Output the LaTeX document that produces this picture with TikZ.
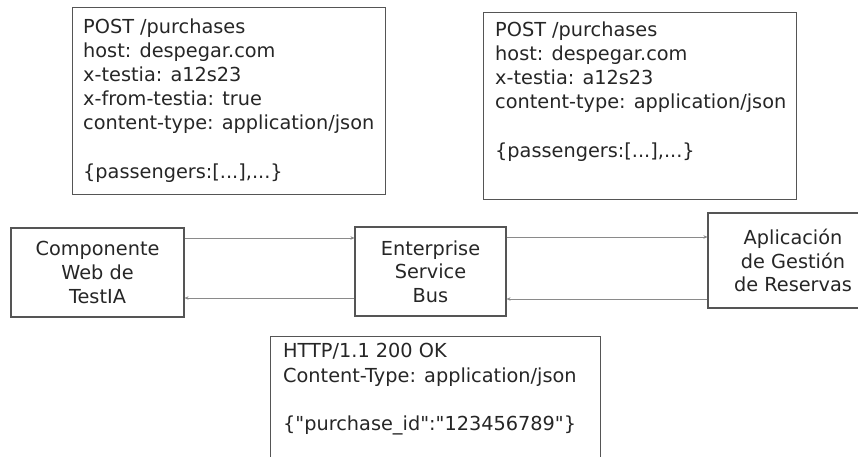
\documentclass[tikz,border=0pt]{standalone}
\usepackage{fontspec}
\setmainfont{DejaVu Sans}
\newfontfamily\dvplain{DejaVu Sans}
\usetikzlibrary{arrows.meta}
\definecolor{txt}{HTML}{262626}
\definecolor{boxgray}{HTML}{555555}
\definecolor{linegray}{HTML}{8A8A8A}
\begin{document}
\begin{tikzpicture}[x=1pt,y=-1pt,
  box/.style={draw=boxgray, line width=1.1pt, inner sep=0pt, fill=white},
  comp/.style={box, font=\dvplain\fontsize{19.3}{23.6}\selectfont, align=center, text=txt},
  msg/.style={font=\dvplain\fontsize{19.3}{24.2}\selectfont, align=left, anchor=north west, inner sep=0pt, text=txt},
  link/.style={draw=linegray, line width=0.9pt, -{Stealth[length=4pt,width=3.5pt]}}]
\useasboundingbox (0,0) rectangle (858,457);

% message boxes
\node[box, anchor=north west, minimum width=313pt, minimum height=187pt] (req1box) at (72,7) {};
\node[msg] (req1) at (83,18.3) {POST /purchases\\host: despegar.com\\x-testia: a12s23\\x-from-testia: true\\content-type: application/json\\[24.2pt]\{passengers:[...],...\}};

\node[box, anchor=north west, minimum width=313pt, minimum height=187pt] (req2box) at (483,12) {};
\node[msg] (req2) at (495,21.3) {POST /purchases\\host: despegar.com\\x-testia: a12s23\\content-type: application/json\\[24.2pt]\{passengers:[...],...\}};

\node[box, anchor=north west, minimum width=330pt, minimum height=140pt] (respbox) at (270,336) {};
\node[msg] (resp) at (283,343.3) {HTTP/1.1 200 OK\\Content-Type: application/json\\[24.2pt]\{"purchase\_id":"123456789"\}};

% components
\node[comp, minimum width=173pt, minimum height=89pt] (web) at (97.5,272.5) {Componente\\Web de\\TestIA};
\node[comp, minimum width=151pt, minimum height=89pt] (esb) at (430.5,271.5) {Enterprise\\Service\\Bus};
\node[comp, minimum width=170pt, minimum height=95pt] (app) at (793,260.5) {Aplicación\\de Gestión\\de Reservas};

% connectors
\draw[link] (web.east |- 0,238) -- (esb.west |- 0,238);
\draw[link] (esb.west |- 0,298) -- (web.east |- 0,298);
\draw[link] (esb.east |- 0,237) -- (app.west |- 0,237);
\draw[link] (app.west |- 0,299) -- (esb.east |- 0,299);
\end{tikzpicture}
\end{document}
